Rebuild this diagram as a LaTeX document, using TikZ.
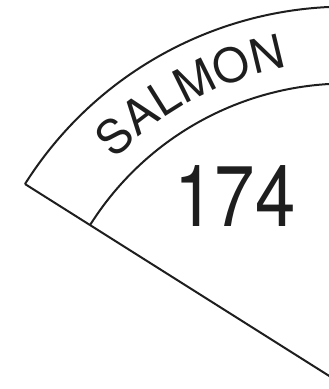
\documentclass[tikz,border=0pt]{standalone}
\usepackage{fontspec}
\setmainfont{TeX Gyre Heros}
\usetikzlibrary{decorations.text}
\definecolor{rimink}{HTML}{1E1E1E}
\newcommand{\bandfont}{\fontsize{47pt}{47pt}\selectfont}
\tikzset{
  rim/.style={draw=rimink, line width=2pt},
  countlabel/.style={inner sep=0pt, text=rimink, xscale=0.845, font=\fontsize{86pt}{86pt}\selectfont},
  bandtext/.style={decorate, decoration={text along path, text align=center,
    text color=rimink, text={|\bandfont|SALMON}}}
}

\begin{document}
\begin{tikzpicture}[x=1pt,y=1pt]
\useasboundingbox (-346.7,-2) rectangle (-17.7,387);
\clip (-346.7,-2) rectangle (-17.7,387);
\coordinate (hub) at (0,0);
\coordinate (outerA) at (147.75:380.4);
\coordinate (innerA) at (147.75:303.5);
\draw[rim] (outerA) arc[start angle=147.75, end angle=80, radius=380.4pt];
\draw[rim] (innerA) arc[start angle=147.75, end angle=80, radius=303.5pt];
\draw[rim] (outerA) -- (hub);
\path[bandtext] (147.75:325) arc[start angle=147.75, end angle=88.3, radius=325pt];
\node[countlabel] (count) at (120.3:221) {174};
\end{tikzpicture}
\end{document}
